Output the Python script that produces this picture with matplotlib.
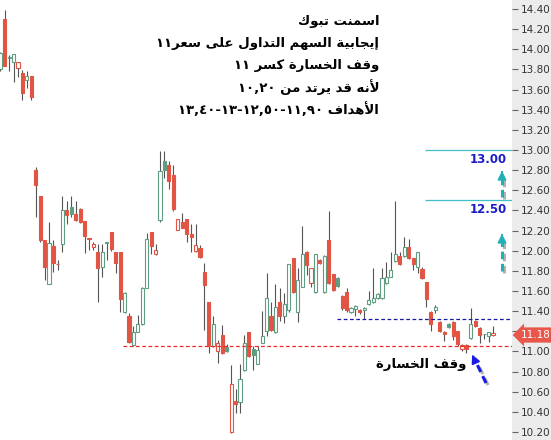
import re

import matplotlib
matplotlib.use("Agg")
import matplotlib.pyplot as plt
import matplotlib.patheffects as pe
import numpy as np
from matplotlib.patches import Rectangle


# --- بيانات الشموع (تقدير من الصورة) ---
opens = [13.80, 14.30, 13.91, 13.87, 13.81, 13.77, 13.70, 13.74, 12.80, 12.54,
         12.11, 11.67, 12.05, 11.865, 12.07, 12.40, 12.43, 12.36, 12.41, 12.30,
         12.12, 12.04, 11.99, 11.84, 12.08, 12.19, 11.99, 11.99, 11.39, 11.35,
         11.06, 11.19, 11.27, 11.63, 12.19, 11.97, 12.31, 12.89, 12.85, 12.75,
         12.21, 12.29, 12.32, 12.17, 12.00, 12.03, 11.79, 11.49, 11.05, 11.00,
         11.16, 11.04, 10.20, 10.51, 10.50, 10.82, 11.19, 11.02, 10.88, 11.08,
         11.20, 11.35, 11.19, 11.49, 11.35, 11.41, 11.93, 11.39, 11.64, 11.99,
         11.68, 11.59, 11.91, 11.59, 12.11, 11.77, 11.73, 11.55, 11.59, 11.39,
         11.42, 11.41, 11.41, 11.47, 11.49, 11.53, 11.53, 11.68, 11.74, 11.90,
         11.95, 11.95, 12.04, 11.93, 11.84, 11.82, 11.69, 11.39, 11.41, 11.29,
         11.19, 11.27, 11.29, 11.20, 11.02, 11.06, 11.13, 11.30, 11.23, 11.17,
         11.15, 11.16]
highs = [13.97, 14.39, 13.94, 13.95, 13.87, 13.79, 13.78, 13.74, 12.83, 12.54,
         12.11, 12.29, 12.11, 11.91, 12.54, 12.49, 12.54, 12.49, 12.42, 12.30,
         12.13, 12.09, 12.07, 12.07, 12.085, 12.19, 11.99, 11.99, 11.59, 11.38,
         11.25, 11.36, 11.64, 12.18, 12.19, 12.07, 12.99, 12.99, 12.89, 12.85,
         12.32, 12.37, 12.32, 12.27, 12.27, 12.06, 11.88, 11.49, 11.35, 11.11,
         11.26, 11.07, 10.87, 10.63, 10.88, 11.16, 11.19, 11.05, 11.05, 11.40,
         11.78, 11.49, 11.67, 11.63, 11.58, 11.87, 11.93, 11.83, 12.25, 12.00,
         11.83, 11.97, 11.92, 11.96, 12.39, 11.77, 11.74, 11.56, 11.63, 11.44,
         11.46, 11.42, 11.44, 11.60, 11.83, 11.58, 11.83, 11.89, 11.99, 12.49,
         11.99, 12.14, 12.12, 11.93, 11.99, 11.84, 11.69, 11.40, 11.46, 11.30,
         11.20, 11.28, 11.30, 11.20, 11.07, 11.07, 11.43, 11.31, 11.24, 11.17,
         11.19, 11.25]
lows = [13.78, 13.83, 13.78, 13.68, 13.73, 13.50, 13.62, 13.50, 12.34, 12.09,
        11.71, 11.67, 11.79, 11.81, 11.99, 12.27, 12.34, 12.30, 12.28, 11.98,
        12.01, 12.01, 11.49, 11.74, 11.91, 12.00, 11.78, 11.39, 11.38, 11.08,
        11.05, 11.19, 11.26, 11.63, 11.97, 11.96, 12.29, 12.72, 12.61, 12.39,
        12.21, 12.23, 12.09, 11.99, 11.99, 11.93, 11.21, 10.98, 11.04, 10.89,
        10.97, 10.99, 10.19, 10.39, 10.39, 10.81, 10.94, 10.82, 10.88, 11.08,
        11.15, 11.20, 11.18, 11.30, 11.28, 11.39, 11.58, 11.29, 11.64, 11.76,
        11.64, 11.58, 11.87, 11.58, 11.67, 11.60, 11.64, 11.41, 11.39, 11.38,
        11.35, 11.37, 11.32, 11.46, 11.48, 11.52, 11.52, 11.67, 11.74, 11.89,
        11.86, 11.94, 11.92, 11.81, 11.78, 11.72, 11.44, 11.20, 11.38, 11.19,
        11.10, 11.23, 11.11, 11.05, 11.00, 10.98, 11.12, 11.24, 11.08, 11.12,
        11.09, 11.15]
closes = [13.96, 13.83, 13.92, 13.95, 13.87, 13.57, 13.74, 13.53, 12.65, 12.11,
          11.84, 12.08, 11.88, 11.87, 12.40, 12.35, 12.36, 12.31, 12.29, 12.15,
          12.125, 12.07, 11.83, 11.99, 12.085, 12.02, 11.88, 11.52, 11.58, 11.09,
          11.19, 11.27, 11.63, 12.12, 12.05, 12.01, 12.79, 12.80, 12.69, 12.41,
          12.32, 12.23, 12.17, 12.14, 12.06, 11.94, 11.66, 11.05, 11.27, 11.08,
          10.98, 11.00, 10.68, 10.48, 10.73, 11.08, 10.95, 10.96, 11.01, 11.15,
          11.53, 11.21, 11.44, 11.35, 11.47, 11.87, 11.59, 11.71, 11.97, 11.86,
          11.83, 11.97, 11.88, 11.95, 11.68, 11.61, 11.645, 11.43, 11.41, 11.43,
          11.45, 11.39, 11.43, 11.51, 11.53, 11.57, 11.73, 11.74, 11.81, 11.97,
          11.87, 12.04, 11.93, 11.87, 11.99, 11.73, 11.52, 11.27, 11.44, 11.20,
          11.17, 11.24, 11.15, 11.07, 11.06, 11.02, 11.27, 11.25, 11.16, 11.17,
          11.19, 11.18]

y_ticks = [10.20, 10.40, 10.60, 10.80, 11.00, 11.20, 11.40, 11.60, 11.80, 12.00,
           12.20, 12.40, 12.60, 12.80, 13.00, 13.20, 13.40, 13.60, 13.80, 14.00,
           14.20, 14.40]

# مستويات مرسومة على الشارت
stop_level = 11.05
resistance_level = 11.32
targets = [12.50, 13.00]
last_price = 11.18

title_lines = [
    "اسمنت تبوك",
    "إيجابية السهم التداول على سعر١١",
    "وقف الخسارة كسر ١١",
    "لأنه قد يرتد من ١٠,٢٠",
    "الأهداف ١١,٩٠-١٢,٥٠-١٣-١٣,٤٠",
]
stop_label = "وقف الخسارة"

W, H = 551, 440
PLOT_W = 512
X0, DX = 0.2, 4.44          # موقع الشمعة الأولى والمسافة بالبكسل
PX_PER_UNIT = 100.7
Y_TOP = 14.49

UP = "#5f9e80"
DOWN = "#e25443"
WICK = "#555555"


# --- تشكيل الحروف العربية (matplotlib لا يدعم التشكيل ولا الاتجاه) ---
FORMS = {
    "ا": ("\uFE8D", "\uFE8E", None, None),
    "أ": ("\uFE83", "\uFE84", None, None),
    "إ": ("\uFE87", "\uFE88", None, None),
    "ب": ("\uFE8F", "\uFE90", "\uFE91", "\uFE92"),
    "ة": ("\uFE93", "\uFE94", None, None),
    "ت": ("\uFE95", "\uFE96", "\uFE97", "\uFE98"),
    "ج": ("\uFE9D", "\uFE9E", "\uFE9F", "\uFEA0"),
    "خ": ("\uFEA5", "\uFEA6", "\uFEA7", "\uFEA8"),
    "د": ("\uFEA9", "\uFEAA", None, None),
    "ر": ("\uFEAD", "\uFEAE", None, None),
    "س": ("\uFEB1", "\uFEB2", "\uFEB3", "\uFEB4"),
    "ع": ("\uFEC9", "\uFECA", "\uFECB", "\uFECC"),
    "ف": ("\uFED1", "\uFED2", "\uFED3", "\uFED4"),
    "ق": ("\uFED5", "\uFED6", "\uFED7", "\uFED8"),
    "ك": ("\uFED9", "\uFEDA", "\uFEDB", "\uFEDC"),
    "ل": ("\uFEDD", "\uFEDE", "\uFEDF", "\uFEE0"),
    "م": ("\uFEE1", "\uFEE2", "\uFEE3", "\uFEE4"),
    "ن": ("\uFEE5", "\uFEE6", "\uFEE7", "\uFEE8"),
    "ه": ("\uFEE9", "\uFEEA", "\uFEEB", "\uFEEC"),
    "و": ("\uFEED", "\uFEEE", None, None),
    "ى": ("\uFEEF", "\uFEF0", None, None),
    "ي": ("\uFEF1", "\uFEF2", "\uFEF3", "\uFEF4"),
}
LAM_ALEF = {"ا": ("\uFEFB", "\uFEFC"), "أ": ("\uFEF7", "\uFEF8"), "إ": ("\uFEF9", "\uFEFA")}


def shape(text):
    out = []
    i = 0
    n = len(text)
    while i < n:
        c = text[i]
        prev = text[i - 1] if i > 0 else ""
        joins_prev = prev in FORMS and FORMS[prev][2] is not None
        if c == "ل" and i + 1 < n and text[i + 1] in LAM_ALEF:
            out.append(LAM_ALEF[text[i + 1]][1 if joins_prev else 0])
            i += 2
            continue
        if c not in FORMS:
            out.append(c)
            i += 1
            continue
        nxt = text[i + 1] if i + 1 < n else ""
        joins_next = FORMS[c][2] is not None and nxt in FORMS
        iso, fin, ini, med = FORMS[c]
        if joins_prev and joins_next:
            out.append(med)
        elif joins_prev:
            out.append(fin)
        elif joins_next:
            out.append(ini)
        else:
            out.append(iso)
        i += 1
    return "".join(out)


def visual(text):
    tokens = re.findall(r"\d[\d,]*|\D+", shape(text))
    return "".join(t if t[0].isdigit() else t[::-1] for t in reversed(tokens))


def px_to_x(px):
    return (px - X0) / DX


def px_to_y(py):
    return Y_TOP - py / PX_PER_UNIT


def draw_candles(ax):
    width = 0.7
    for i in range(len(opens)):
        o, h, l, c = opens[i], highs[i], lows[i], closes[i]
        prev_c = closes[i - 1] if i > 0 else o
        color = UP if c >= prev_c else DOWN
        hollow = c >= o
        ax.vlines(i, l, h, color=WICK, lw=0.8, zorder=2)
        bottom = min(o, c)
        height = max(abs(c - o), 0.008)
        ax.add_patch(Rectangle((i - width / 2, bottom), width, height,
                               facecolor="white" if hollow else color,
                               edgecolor=color, lw=0.8, zorder=3))


def dashed_arrow(ax, x, y0, y1, color):
    shadow = [pe.SimpleLineShadow(offset=(1.5, -1.5), alpha=0.3), pe.Normal()]
    ax.plot([x, x], [y0, y1 - 0.05], color=color, lw=2.2, dashes=(2.5, 1.5), zorder=6,
            path_effects=shadow)
    ax.annotate("", xy=(x, y1), xytext=(x, y1 - 0.07),
                arrowprops=dict(arrowstyle="-|>", color=color, mutation_scale=13, lw=1.2),
                zorder=6)


def main():
    fig = plt.figure(figsize=(W / 100, H / 100), dpi=100)
    fig.patches.append(Rectangle((PLOT_W / W, 0), 1 - PLOT_W / W, 1,
                                 transform=fig.transFigure, facecolor="#ececec",
                                 edgecolor="none", zorder=-5))
    ax = fig.add_axes([0, 0, PLOT_W / W, 1])
    ax.set_xlim(px_to_x(0), px_to_x(PLOT_W))
    ax.set_ylim(px_to_y(H), Y_TOP)
    for s in ax.spines.values():
        s.set_visible(False)
    ax.set_xticks([])
    ax.yaxis.tick_right()
    ax.set_yticks(y_ticks)
    # التسمية 11.20 مغطاة بوسم السعر الأخير
    ax.set_yticklabels(["" if abs(v - 11.20) < 1e-6 else f"{v:.2f}" for v in y_ticks])
    ax.tick_params(axis="y", direction="out", length=4, width=0.8, color="#666666",
                   pad=2, labelsize=7.5, labelcolor="#333333")

    draw_candles(ax)

    right = px_to_x(PLOT_W)
    ax.hlines(stop_level, px_to_x(123), right, color="#ec2a2a", lw=0.9,
              linestyles=(0, (3, 2)), zorder=4)
    ax.hlines(resistance_level, px_to_x(337), right, color="#1a1a9c", lw=0.9,
              linestyles=(0, (3, 2)), zorder=4)
    for t in targets:
        ax.hlines(t, px_to_x(425), right, color="#3fbfc8", lw=0.9, zorder=4)
        ax.text(px_to_x(507), t - 0.03, f"{t:.2f}", ha="right", va="top",
                color="#1c1cc8", fontsize=8.5, fontweight="bold", zorder=5)

    teal = "#20b0b5"
    dashed_arrow(ax, px_to_x(502), px_to_y(197), px_to_y(168), teal)
    dashed_arrow(ax, px_to_x(502), px_to_y(271), px_to_y(231), teal)

    blue = "#1a1ae0"
    ax.plot([px_to_x(486), px_to_x(475)], [px_to_y(383), px_to_y(360)], color=blue,
            lw=2.2, dashes=(2.5, 1.5), zorder=6,
            path_effects=[pe.SimpleLineShadow(offset=(1.5, -1.5), alpha=0.3), pe.Normal()])
    ax.annotate("", xy=(px_to_x(471), px_to_y(352)), xytext=(px_to_x(475), px_to_y(361)),
                arrowprops=dict(arrowstyle="-|>", color=blue, mutation_scale=13, lw=1.2),
                zorder=6)

    ax.text(px_to_x(421), px_to_y(365), visual(stop_label), ha="center", va="center",
            fontsize=9.5, fontweight="bold", color="black", zorder=7)

    for k, line in enumerate(title_lines):
        yy = 22 + k * 21.8
        fig.text(379 / W, 1 - yy / H, visual(line), ha="right", va="center",
                 fontsize=9.5, fontweight="bold", color="black")

    fig.text(521 / W, 1 - 335 / H, f"{last_price:.2f}", ha="left", va="center",
             color="white", fontsize=7.5, zorder=10,
             bbox=dict(boxstyle="larrow,pad=0.25", fc="#e8574a", ec="none"))

    fig.savefig("out.png", dpi=100)
    plt.close(fig)


if __name__ == "__main__":
    main()
